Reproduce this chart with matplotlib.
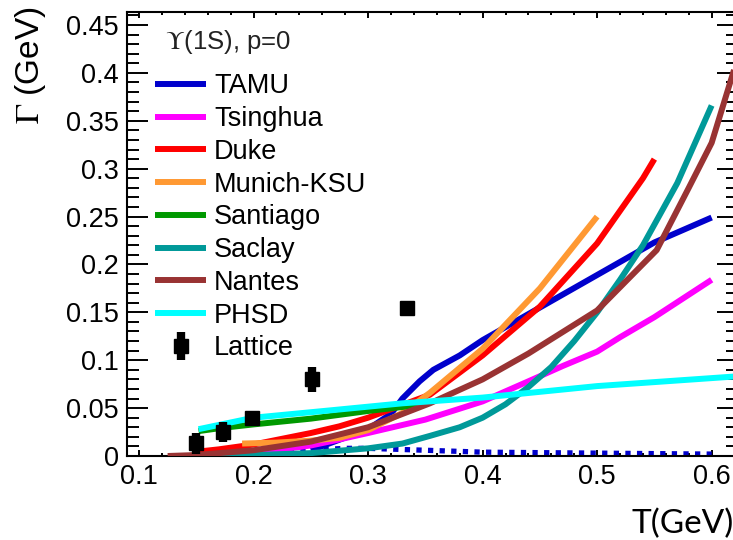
import matplotlib
matplotlib.use("Agg")
import matplotlib.pyplot as plt
from matplotlib.ticker import MultipleLocator

plt.rcParams['font.family'] = ['Liberation Sans', 'DejaVu Sans']
plt.rcParams['mathtext.fontset'] = 'stix'

# model curves: T (GeV) vs width Gamma (GeV)
tamu_T = [0.25, 0.30, 0.32, 0.33, 0.345, 0.357, 0.38, 0.40, 0.45, 0.50, 0.55, 0.60]
tamu_G = [0.006, 0.028, 0.044, 0.060, 0.078, 0.090, 0.105, 0.121, 0.155, 0.189, 0.223, 0.249]

tamu_dot_T = [0.17, 0.20, 0.25, 0.28, 0.30, 0.35, 0.40, 0.50, 0.60]
tamu_dot_G = [0.001, 0.003, 0.006, 0.008, 0.008, 0.006, 0.004, 0.003, 0.002]

tsinghua_T = [0.17, 0.20, 0.25, 0.27, 0.30, 0.35, 0.40, 0.44, 0.47, 0.50, 0.52, 0.55, 0.60]
tsinghua_G = [0.0, 0.003, 0.011, 0.016, 0.024, 0.038, 0.057, 0.078, 0.094, 0.109, 0.124, 0.145, 0.184]

duke_T = [0.147, 0.17, 0.20, 0.25, 0.275, 0.30, 0.354, 0.40, 0.45, 0.50, 0.54, 0.55]
duke_G = [0.004, 0.007, 0.012, 0.024, 0.031, 0.040, 0.064, 0.105, 0.156, 0.222, 0.29, 0.31]

munich_T = [0.19, 0.22, 0.25, 0.275, 0.30, 0.33, 0.354, 0.40, 0.45, 0.50]
munich_G = [0.013, 0.014, 0.016, 0.019, 0.027, 0.045, 0.066, 0.112, 0.175, 0.25]

santiago_T = [0.152, 0.17, 0.20, 0.25, 0.30, 0.35]
santiago_G = [0.026, 0.029, 0.033, 0.039, 0.047, 0.054]

saclay_T = [0.16, 0.20, 0.25, 0.30, 0.33, 0.354, 0.38, 0.40, 0.42, 0.44, 0.46, 0.48, 0.50,
            0.52, 0.54, 0.57, 0.60]
saclay_G = [0.0, 0.001, 0.003, 0.008, 0.013, 0.021, 0.030, 0.040, 0.054, 0.072, 0.093, 0.120, 0.150,
            0.184, 0.220, 0.285, 0.366]

nantes_T = [0.125, 0.15, 0.20, 0.25, 0.27, 0.30, 0.354, 0.40, 0.44, 0.50, 0.552, 0.58, 0.60, 0.62]
nantes_G = [0.0, 0.001, 0.006, 0.015, 0.021, 0.030, 0.055, 0.080, 0.107, 0.152, 0.215, 0.280, 0.327, 0.405]

phsd_T = [0.152, 0.20, 0.27, 0.33, 0.40, 0.50, 0.62]
phsd_G = [0.028, 0.040, 0.048, 0.055, 0.061, 0.073, 0.083]

# lattice points
lat_T = [0.150, 0.173, 0.199, 0.251, 0.334]
lat_G = [0.0135, 0.025, 0.040, 0.080, 0.1545]
lat_err = [0.011, 0.010, 0.004, 0.013, 0.003]

fig = plt.figure(figsize=(7.33, 5.40), dpi=100)
ax = fig.add_axes([127 / 733, 84 / 540, 611 / 733, 444 / 540])

lw = 4.3
kw = dict(lw=lw, solid_joinstyle='round', solid_capstyle='butt')
ax.plot(tamu_T, tamu_G, color='#0000cc', label='TAMU', zorder=2, **kw)
ax.plot(tamu_dot_T, tamu_dot_G, color='#0000cc', lw=3.8, ls=(0, (1.0, 1.2)), zorder=2)
ax.plot(tsinghua_T, tsinghua_G, color='#ff00ff', label='Tsinghua', zorder=3, **kw)
ax.plot(duke_T, duke_G, color='#ff0000', label='Duke', zorder=3, **kw)
ax.plot(munich_T, munich_G, color='#ff9933', label='Munich-KSU', zorder=3, **kw)
ax.plot(santiago_T, santiago_G, color='#009900', label='Santiago', zorder=3, **kw)
ax.plot(saclay_T, saclay_G, color='#009999', label='Saclay', zorder=3, **kw)
ax.plot(nantes_T, nantes_G, color='#993333', label='Nantes', zorder=3, **kw)
ax.plot(phsd_T, phsd_G, color='#00ffff', label='PHSD', zorder=4, **kw)
ax.errorbar(lat_T, lat_G, yerr=lat_err, fmt='s', color='black', ms=10.5,
            elinewidth=6, capsize=0, label='Lattice', zorder=5)

ax.set_xlim(0.0895, 0.623)
ax.set_ylim(0, 0.4636)

ax.xaxis.set_minor_locator(MultipleLocator(0.02))
ax.yaxis.set_minor_locator(MultipleLocator(0.01))
ax.set_yticks([0, 0.05, 0.1, 0.15, 0.2, 0.25, 0.3, 0.35, 0.4, 0.45])
ax.set_yticklabels(['0', '0.05', '0.1', '0.15', '0.2', '0.25', '0.3', '0.35', '0.4', '0.45'])
ax.set_xticks([0.1, 0.2, 0.3, 0.4, 0.5, 0.6])
ax.set_xticklabels(['0.1', '0.2', '0.3', '0.4', '0.5', '0.6'])

ax.tick_params(axis='both', which='both', direction='in', top=True, right=True,
               width=1.4, labelsize=19.5, colors='black')
ax.tick_params(axis='y', which='major', length=15, pad=6)
ax.tick_params(axis='y', which='minor', length=8.5)
ax.tick_params(axis='x', which='major', length=4.5, pad=6)
ax.tick_params(axis='x', which='minor', length=2.3)
for s in ax.spines.values():
    s.set_linewidth(1.5)

ax.legend(loc='upper left', bbox_to_anchor=(28 / 611, 0.862), frameon=False,
          fontsize=19.5, handlelength=1.9, handletextpad=0.28,
          labelspacing=0.25, borderaxespad=0, borderpad=0)
ax.text((165 - 127) / 611, 1 - (42 - 12) / 444, r'$\Upsilon$(1S), p=0', transform=ax.transAxes,
        ha='left', va='center', fontsize=18.5, color='#222222')

fig.text(30 / 733, 1 - 6 / 540, r'$\Gamma$ (GeV)', rotation=90, ha='center', va='top',
         fontsize=24)
fig.text(632 / 733, 7 / 540, 'T(GeV)', ha='left', va='baseline', fontsize=24,
         family=['Lato', 'DejaVu Sans'])

fig.savefig('out.png', dpi=100)
